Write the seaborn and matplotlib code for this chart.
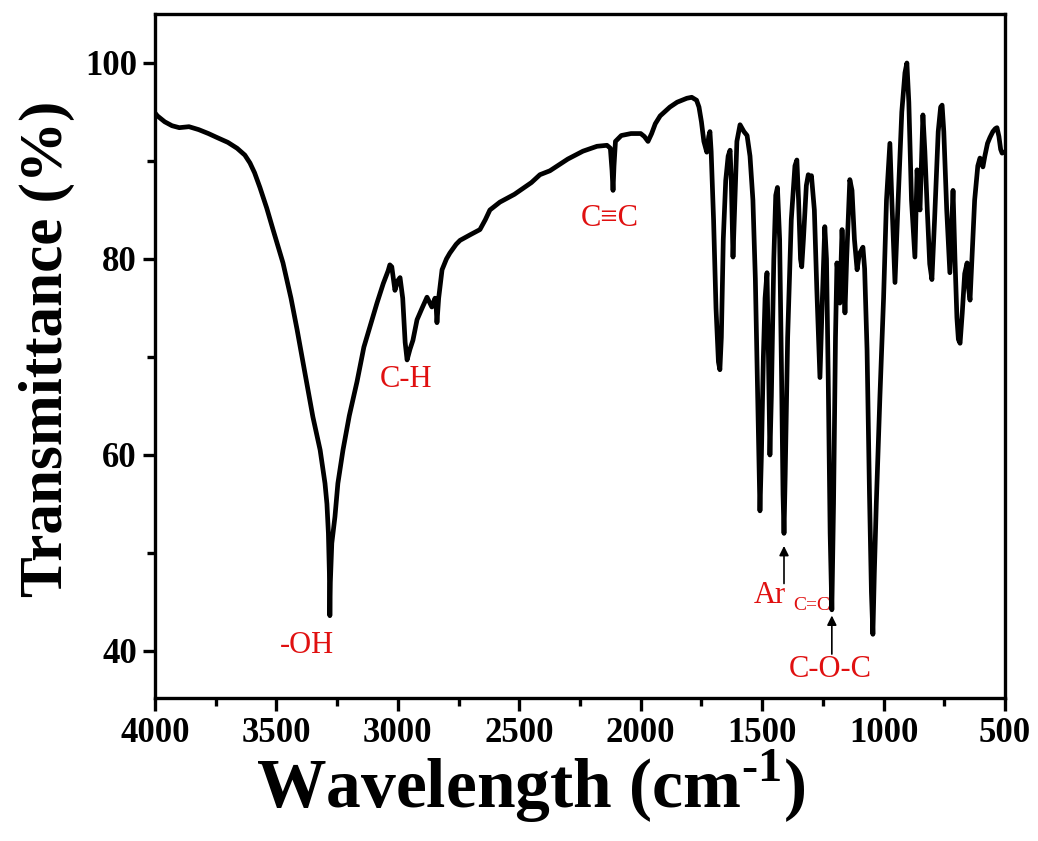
import matplotlib
matplotlib.use("Agg")
import matplotlib.pyplot as plt
from matplotlib.ticker import MultipleLocator
import seaborn as sns
import pandas as pd

# ---- data: (wavenumber cm-1, transmittance %) ----
region_oh = [(4000, 94.9), (3990, 94.6), (3960, 94.0), (3930, 93.6), (3900, 93.4), (3860, 93.5),
             (3820, 93.2), (3780, 92.8), (3745, 92.4), (3700, 91.9), (3662, 91.3), (3630, 90.6),
             (3609, 89.8), (3590, 88.8), (3568, 87.3), (3540, 85.2), (3514, 83.0), (3473, 79.6),
             (3440, 76.0), (3415, 72.8), (3382, 68.3), (3350, 63.9), (3320, 60.5), (3300, 57.1),
             (3292, 55.0), (3286, 52.0), (3282, 48.0), (3280, 43.6), (3278, 47.0), (3272, 51.0),
             (3259, 53.7), (3247, 57.1), (3226, 60.5), (3200, 64.0), (3168, 67.5), (3140, 71.0),
             (3110, 73.5), (3086, 75.5), (3060, 77.5), (3040, 78.8), (3033, 79.4), (3025, 79.2),
             (3012, 76.8)]

region_ch = [(3000, 77.8), (2991, 78.1), (2980, 76.0), (2970, 71.5), (2962, 69.7), (2950, 70.8),
             (2938, 71.7), (2921, 73.8), (2900, 75.0), (2880, 76.1), (2860, 75.1), (2847, 76.0),
             (2842, 75.0), (2839, 73.5), (2832, 76.0), (2818, 78.9), (2800, 80.0), (2786, 80.6),
             (2760, 81.5), (2744, 81.9), (2700, 82.5), (2662, 83.0), (2640, 84.0), (2621, 85.0),
             (2580, 85.8), (2520, 86.6), (2450, 87.8), (2415, 88.6), (2374, 89.0), (2300, 90.2),
             (2238, 91.0), (2180, 91.5), (2139, 91.6), (2125, 91.3), (2118, 89.0), (2114, 87.0),
             (2110, 89.5), (2104, 92.0), (2080, 92.6), (2040, 92.8), (2000, 92.8), (1985, 92.5),
             (1970, 92.0), (1955, 92.8), (1940, 93.8), (1920, 94.6), (1880, 95.5), (1850, 96.0),
             (1810, 96.4), (1790, 96.5), (1770, 96.2), (1760, 95.5), (1750, 94.0), (1740, 92.0)]

region_fingerprint = [(1728, 90.9), (1720, 92.5), (1715, 93.0), (1710, 91.0), (1700, 84.0),
                      (1690, 75.0), (1680, 69.5), (1674, 68.7), (1668, 72.0), (1660, 82.0),
                      (1650, 88.0), (1640, 90.5), (1632, 91.1), (1627, 88.0), (1620, 80.2),
                      (1612, 86.0), (1604, 92.0), (1591, 93.7), (1575, 93.0), (1562, 92.6),
                      (1550, 90.5), (1538, 86.0), (1528, 78.0), (1520, 68.0), (1514, 60.0),
                      (1509, 54.3), (1503, 60.0), (1495, 70.0), (1488, 76.0), (1480, 78.6),
                      (1474, 70.0), (1468, 60.0), (1462, 66.0), (1452, 80.0), (1444, 86.5),
                      (1437, 87.3), (1428, 82.0), (1420, 68.0), (1414, 56.0), (1410, 52.0),
                      (1405, 58.0), (1395, 72.0), (1380, 84.0), (1365, 89.5), (1357, 90.1),
                      (1350, 86.0), (1342, 80.0), (1337, 79.2), (1330, 82.0), (1318, 87.5),
                      (1310, 88.6), (1303, 88.2), (1297, 88.5), (1285, 85.0), (1275, 77.0),
                      (1262, 67.9), (1252, 76.0), (1242, 83.3), (1235, 80.0), (1228, 68.0),
                      (1220, 52.0), (1213, 44.2), (1206, 55.0), (1198, 72.0), (1192, 79.6),
                      (1186, 78.0), (1180, 75.5), (1176, 79.0), (1171, 83.0), (1166, 80.0),
                      (1159, 74.5), (1152, 80.0), (1139, 88.1), (1130, 87.0), (1120, 82.0),
                      (1109, 78.9), (1100, 80.5), (1085, 81.2), (1078, 79.0), (1068, 70.7),
                      (1058, 56.0), (1050, 46.0), (1044, 41.7), (1038, 48.0), (1030, 55.0),
                      (1015, 66.0)]

region_low = [(1000, 76.0), (988, 86.0), (974, 91.8), (966, 86.0), (953, 77.6), (940, 86.0),
              (925, 95.0), (912, 99.0), (904, 100.0), (896, 96.0), (885, 86.0), (871, 80.2),
              (866, 85.0), (862, 89.1), (856, 86.0), (850, 85.0), (844, 90.0), (838, 94.7),
              (830, 91.0), (820, 85.0), (810, 79.5), (801, 77.9), (790, 84.0), (775, 93.0),
              (765, 95.5), (759, 95.7), (752, 93.0), (740, 85.0), (727, 78.6), (720, 83.0),
              (714, 87.0), (706, 80.0), (698, 74.0), (692, 71.8), (685, 71.4), (676, 74.5),
              (666, 78.5), (656, 79.6), (650, 77.0), (644, 75.8), (636, 80.0), (625, 86.0),
              (612, 89.5), (603, 90.3), (597, 89.9), (591, 89.4), (583, 90.5), (572, 91.8),
              (562, 92.4), (550, 93.0), (540, 93.3), (533, 93.4), (525, 92.5), (518, 91.2),
              (512, 90.8), (505, 90.9)]

annot_labels = ["-OH", "C-H", "C\u2261C", "Ar", "C=C", "C-O-C"]

points = region_oh + region_ch + region_fingerprint + region_low
df = pd.DataFrame(points, columns=["Wavenumber", "Transmittance"])

# ---- style ----
sns.set_style("ticks")
plt.rcParams["font.family"] = ["Liberation Serif", "DejaVu Serif"]
plt.rcParams["text.color"] = "black"
plt.rcParams["axes.labelcolor"] = "black"
plt.rcParams["xtick.color"] = "black"
plt.rcParams["ytick.color"] = "black"
plt.rcParams["mathtext.fontset"] = "custom"
plt.rcParams["mathtext.rm"] = "Liberation Serif"
plt.rcParams["mathtext.bf"] = "Liberation Serif:bold"

W, H = 1038, 841
fig = plt.figure(figsize=(W / 100, H / 100), dpi=100)
ax = fig.add_axes([155 / W, 1 - 698 / H, 850 / W, 684 / H])

sns.lineplot(data=df, x="Wavenumber", y="Transmittance", ax=ax, color="black",
             linewidth=3.4, estimator=None, sort=False)

ax.set_xlim(4000, 500)
ax.set_ylim(35.2, 105)
ax.xaxis.set_major_locator(MultipleLocator(500))
ax.xaxis.set_minor_locator(MultipleLocator(250))
ax.yaxis.set_major_locator(MultipleLocator(20))
ax.yaxis.set_minor_locator(MultipleLocator(10))

for s in ax.spines.values():
    s.set_linewidth(2.4)
    s.set_color("black")

ax.tick_params(axis="both", which="major", direction="out", length=9, width=2.4,
               labelsize=25, pad=5, top=False, right=False, colors="black")
ax.tick_params(axis="both", which="minor", direction="out", length=5.5, width=2.4,
               top=False, right=False, colors="black")
ax.tick_params(axis="y", which="major", pad=4)
for lab in ax.get_xticklabels() + ax.get_yticklabels():
    lab.set_fontweight("bold")

ax.set_xlabel("Wavelength (cm$^{\\mathbf{\u2010 1}}$)", fontsize=50, fontweight="bold",
              color="black")
ax.set_ylabel("Transmittance (%)", fontsize=44, fontweight="bold", color="black")
ax.xaxis.set_label_coords(0.442, -0.072)
ax.yaxis.set_label_coords(-0.094, 0.51)

red = "#e01010"
tfs = 22
ax.text(3374, 40.6, annot_labels[0], color=red, fontsize=tfs, ha="center", va="center")
ax.text(2966, 67.7, annot_labels[1], color=red, fontsize=tfs, ha="center", va="center")
ax.text(2127, 84.1, annot_labels[2], color=red, fontsize=tfs, ha="center", va="center")
ax.text(1468, 45.7, annot_labels[3], color=red, fontsize=tfs, ha="center", va="center")
ax.text(1295, 44.6, annot_labels[4], color=red, fontsize=14, ha="center", va="center")
ax.text(1221, 38.1, annot_labels[5], color=red, fontsize=tfs, ha="center", va="center")

arrow = dict(arrowstyle="-|>", color="black", lw=1.2, mutation_scale=14)
ax.annotate("", xy=(1410, 51.0), xytext=(1410, 46.6), arrowprops=arrow)
ax.annotate("", xy=(1213, 43.9), xytext=(1213, 39.4), arrowprops=arrow)

fig.savefig("out.png", dpi=100)
